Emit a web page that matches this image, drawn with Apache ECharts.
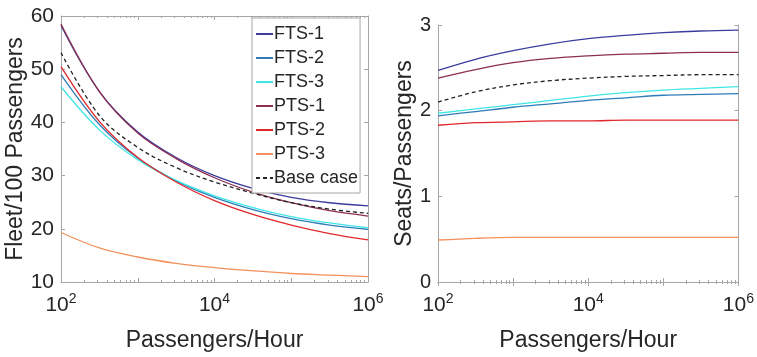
<!DOCTYPE html>
<html>
<head>
<meta charset="utf-8">
<script src="https://cdn.jsdelivr.net/npm/echarts@6/dist/echarts.min.js"></script>
<style>
  html, body { margin: 0; padding: 0; background: #fff; }
  #chart { width: 757px; height: 357px; }
</style>
</head>
<body>
<div id="chart"></div>
<script>
// passengers per hour, sampled every half decade
const passengers = [1e2, 10 ** 2.5, 1e3, 10 ** 3.5, 1e4, 10 ** 4.5, 1e5, 10 ** 5.5, 1e6];
const seriesNames = ['FTS-1', 'FTS-2', 'FTS-3', 'PTS-1', 'PTS-2', 'PTS-3', 'Base case'];

// Fleet/100 passengers (left panel)
const fleetFts1 = [58.2, 45.8, 38.2, 33.4, 30.0, 27.6, 25.9, 24.9, 24.3];
const fleetFts2 = [49.0, 39.6, 33.3, 29.0, 25.9, 23.6, 21.9, 20.7, 19.9];
const fleetFts3 = [46.7, 38.6, 33.0, 29.1, 26.2, 24.0, 22.3, 21.1, 20.2];
const fleetPts1 = [58.5, 45.8, 38.0, 33.2, 29.6, 26.9, 24.9, 23.4, 22.4];
const fleetPts2 = [50.5, 40.2, 33.4, 28.8, 25.3, 22.7, 20.7, 19.1, 17.9];
const fleetPts3 = [19.3, 16.4, 14.7, 13.5, 12.7, 12.1, 11.6, 11.3, 11.0];
const fleetBase = [53.1, 41.3, 35.3, 31.5, 28.8, 26.7, 24.9, 23.7, 22.9];

// Seats/passengers (right panel)
const seatsFts1 = [2.47, 2.60, 2.70, 2.78, 2.84, 2.88, 2.91, 2.93, 2.94];
const seatsFts2 = [1.94, 1.99, 2.04, 2.08, 2.12, 2.15, 2.18, 2.19, 2.20];
const seatsFts3 = [1.97, 2.02, 2.07, 2.12, 2.17, 2.21, 2.24, 2.26, 2.28];
const seatsPts1 = [2.38, 2.48, 2.56, 2.61, 2.64, 2.66, 2.67, 2.68, 2.68];
const seatsPts2 = [1.83, 1.86, 1.87, 1.88, 1.88, 1.89, 1.89, 1.89, 1.89];
const seatsPts3 = [0.49, 0.51, 0.52, 0.52, 0.52, 0.52, 0.52, 0.52, 0.52];
const seatsBase = [2.10, 2.22, 2.30, 2.35, 2.38, 2.40, 2.41, 2.42, 2.42];

const colors = ['#3b3b9e', '#2f7cb8', '#40e6e6', '#8c2f52', '#e0282b', '#f2915c', '#222222'];
const fleetData = [fleetFts1, fleetFts2, fleetFts3, fleetPts1, fleetPts2, fleetPts3, fleetBase];
const seatsData = [seatsFts1, seatsFts2, seatsFts3, seatsPts1, seatsPts2, seatsPts3, seatsBase];

const font = '"Liberation Sans", Arial, sans-serif';
const ink = '#262626';
const frame = '#a6a6a6';

function xAxisFor(gridIndex, top) {
  return {
    type: 'log', logBase: 10, min: 1e2, max: 1e6, gridIndex,
    position: top ? 'top' : 'bottom',
    name: top ? '' : 'Passengers/Hour',
    nameLocation: 'middle', nameGap: 47,
    nameTextStyle: { fontFamily: font, fontSize: 23, color: ink },
    axisLine: { show: true, lineStyle: { color: frame } },
    axisTick: { show: true, inside: true, length: 4, lineStyle: { color: frame } },
    minorTick: { show: true, splitNumber: 9, length: 2, lineStyle: { color: frame } },
    splitLine: { show: false },
    axisLabel: {
      show: !top, margin: 10, fontFamily: font, color: ink,
      formatter: (v) => {
        const e = Math.round(Math.log10(v));
        return e % 2 ? '' : '{b|10}{s|' + e + '}';
      },
      rich: {
        b: { fontFamily: font, fontSize: 21, color: ink },
        s: { fontFamily: font, fontSize: 14, color: ink, padding: [0, 0, 12, 0] },
      },
    },
  };
}

function yAxisFor(gridIndex, right, min, max, interval, name, gap, size) {
  return {
    type: 'value', min, max, interval, gridIndex,
    position: right ? 'right' : 'left',
    name: right ? '' : name,
    nameLocation: 'middle', nameGap: gap,
    nameTextStyle: { fontFamily: font, fontSize: 23, color: ink },
    axisLine: { show: true, lineStyle: { color: frame } },
    axisTick: { show: true, inside: true, length: 4, lineStyle: { color: frame } },
    splitLine: { show: false },
    axisLabel: { show: !right, margin: right ? 0 : 7, fontFamily: font, fontSize: size, color: ink },
  };
}

function lines(data, axisIndex) {
  return data.map((values, i) => ({
    name: seriesNames[i],
    type: 'line',
    xAxisIndex: axisIndex, yAxisIndex: axisIndex,
    smooth: 0.35,
    symbol: 'none',
    lineStyle: { color: colors[i], width: 1.3, type: i === 6 ? [4, 3] : 'solid' },
    itemStyle: { color: colors[i] },
    data: passengers.map((p, k) => [p, values[k]]),
  }));
}

const chart = echarts.init(document.getElementById('chart'), null, { renderer: 'canvas' });
chart.setOption({
  animation: false,
  backgroundColor: '#fff',
  grid: [
    { left: 61, top: 16, width: 307, height: 272 },
    { left: 438, top: 25, width: 302, height: 264 },
  ],
  xAxis: [xAxisFor(0, false), xAxisFor(1, false), xAxisFor(0, true), xAxisFor(1, true)],
  yAxis: [
    yAxisFor(0, false, 10, 60, 10, 'Fleet/100 Passengers', 34, 21),
    yAxisFor(1, false, 0, 3, 1, 'Seats/Passengers', 22, 20),
    yAxisFor(0, true, 10, 60, 10, '', 0, 20),
    yAxisFor(1, true, 0, 3, 1, '', 0, 20),
  ],
  legend: {
    data: seriesNames,
    orient: 'vertical',
    left: 252, top: 18,
    padding: [6, 2, 5, 3],
    itemGap: 4,
    itemWidth: 17, itemHeight: 14,
    itemStyle: { opacity: 0 },
    backgroundColor: '#fff',
    borderColor: frame, borderWidth: 1, borderRadius: 0,
    textStyle: { fontFamily: font, fontSize: 18, color: ink, lineHeight: 20, padding: [0, 0, 0, -4] },
  },
  series: [...lines(fleetData, 0), ...lines(seatsData, 1)],
});
</script>
</body>
</html>
